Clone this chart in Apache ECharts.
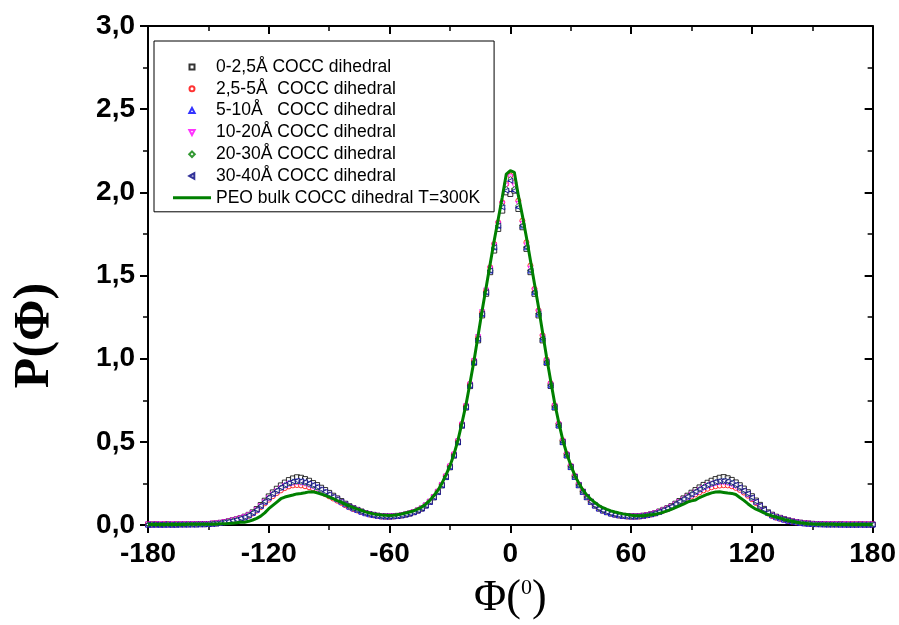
<!DOCTYPE html>
<html>
<head>
<meta charset="utf-8">
<script src="https://cdn.jsdelivr.net/npm/echarts@6/dist/echarts.min.js"></script>
<style>
  html, body { margin: 0; padding: 0; background: #fff; }
  #chart { width: 899px; height: 625px; }
</style>
</head>
<body>
<div id="chart"></div>
<script>
// dihedral angle (deg), step 2
const phi = [
  -180,-178,-176,-174,-172,-170,-168,-166,-164,-162,-160,-158,-156,-154,-152,
  -150,-148,-146,-144,-142,-140,-138,-136,-134,-132,-130,-128,-126,-124,-122,
  -120,-118,-116,-114,-112,-110,-108,-106,-104,-102,-100,-98,-96,-94,-92,
  -90,-88,-86,-84,-82,-80,-78,-76,-74,-72,-70,-68,-66,-64,-62,
  -60,-58,-56,-54,-52,-50,-48,-46,-44,-42,-40,-38,-36,-34,-32,
  -30,-28,-26,-24,-22,-20,-18,-16,-14,-12,-10,-8,-6,-4,-2,
  0,
  2,4,6,8,10,12,14,16,18,20,22,24,26,28,30,
  32,34,36,38,40,42,44,46,48,50,52,54,56,58,60,
  62,64,66,68,70,72,74,76,78,80,82,84,86,88,90,
  92,94,96,98,100,102,104,106,108,110,112,114,116,118,120,
  122,124,126,128,130,132,134,136,138,140,142,144,146,148,150,
  152,154,156,158,160,162,164,166,168,170,172,174,176,178,180
]

// 0-2,5 A
const p0_25 = [
  .003,.003,.004,.003,.003,.004,.003,.003,.004,.004,.004,.005,.004,.005,.005,
  .006,.008,.010,.013,.018,.022,.028,.034,.042,.050,.061,.076,.096,.120,.146,
  .172,.196,.218,.238,.255,.270,.280,.287,.284,.276,.266,.252,.240,.224,.210,
  .193,.176,.160,.144,.128,.113,.101,.091,.081,.072,.066,.061,.056,.053,.052,
  .051,.053,.055,.058,.063,.069,.077,.087,.099,.117,.139,.166,.198,.238,.288,
  .347,.417,.497,.597,.706,.835,.975,1.11,1.26,1.39,1.52,1.65,1.78,1.89,2.00,
  1.99,
  2.01,1.90,1.79,1.66,1.52,1.39,1.26,1.11,.975,.836,.706,.598,.498,.418,.348,
  .289,.239,.199,.167,.139,.117,.099,.087,.077,.069,.063,.058,.055,.053,.052,
  .052,.053,.056,.060,.066,.072,.081,.091,.101,.113,.128,.144,.160,.176,.194,
  .210,.226,.241,.254,.266,.276,.284,.288,.281,.271,.256,.239,.219,.197,.173,
  .147,.121,.097,.076,.062,.050,.043,.035,.028,.022,.018,.014,.011,.009,.007,
  .006,.005,.005,.004,.004,.004,.004,.004,.003,.003,.003,.004,.003,.003,.003
]

// 2,5-5 A
const p25_5 = [
  .003,.003,.003,.003,.004,.003,.003,.004,.004,.004,.004,.004,.005,.005,.005,
  .006,.008,.010,.012,.016,.020,.025,.031,.038,.045,.055,.069,.086,.107,.130,
  .152,.173,.192,.208,.222,.232,.238,.240,.238,.233,.227,.219,.209,.197,.185,
  .172,.159,.146,.133,.119,.106,.096,.087,.078,.070,.063,.058,.054,.051,.050,
  .050,.051,.054,.058,.063,.069,.077,.087,.100,.118,.141,.169,.202,.243,.294,
  .355,.426,.507,.607,.718,.849,.990,1.13,1.28,1.41,1.55,1.69,1.82,1.94,2.05,
  2.10,
  2.06,1.95,1.83,1.70,1.56,1.42,1.29,1.14,.995,.853,.722,.610,.510,.428,.356,
  .295,.244,.203,.170,.142,.119,.100,.088,.078,.070,.063,.058,.054,.051,.050,
  .050,.051,.054,.058,.063,.069,.077,.086,.095,.106,.119,.132,.145,.158,.171,
  .184,.196,.208,.218,.227,.233,.237,.239,.238,.233,.223,.211,.195,.176,.155,
  .132,.109,.088,.069,.054,.044,.037,.030,.024,.019,.015,.012,.010,.008,.006,
  .005,.005,.004,.004,.004,.004,.003,.003,.003,.004,.003,.003,.003,.003,.003
]

// 5-10 A
const p5_10 = [
  .003,.003,.003,.003,.003,.003,.003,.003,.004,.004,.004,.004,.004,.005,.005,
  .006,.008,.010,.013,.017,.021,.026,.032,.040,.046,.058,.073,.092,.115,.140,
  .165,.188,.207,.226,.241,.253,.262,.265,.263,.258,.250,.240,.229,.215,.200,
  .185,.170,.155,.140,.125,.110,.100,.090,.080,.071,.065,.060,.056,.053,.052,
  .052,.053,.055,.059,.064,.070,.078,.088,.100,.118,.140,.168,.200,.240,.290,
  .350,.420,.500,.600,.710,.840,.980,1.12,1.27,1.40,1.53,1.67,1.80,1.92,2.02,
  2.08,
  2.02,1.92,1.80,1.67,1.53,1.40,1.27,1.12,.980,.840,.710,.600,.500,.420,.350,
  .290,.240,.200,.168,.140,.118,.100,.088,.078,.070,.064,.059,.055,.053,.052,
  .052,.053,.056,.060,.065,.071,.080,.090,.100,.110,.125,.140,.155,.170,.185,
  .200,.215,.229,.240,.250,.258,.263,.265,.262,.253,.241,.226,.207,.188,.165,
  .140,.115,.092,.073,.058,.047,.040,.032,.026,.021,.017,.013,.010,.008,.006,
  .005,.005,.004,.004,.004,.004,.003,.003,.003,.003,.003,.003,.003,.003,.003
]

// 10-20 A
const p10_20 = [
  .003,.003,.003,.004,.003,.003,.004,.003,.004,.004,.004,.005,.004,.005,.005,
  .006,.008,.010,.013,.017,.021,.027,.033,.040,.048,.058,.072,.091,.113,.137,
  .161,.183,.202,.220,.234,.245,.252,.255,.253,.248,.240,.231,.220,.207,.193,
  .179,.165,.151,.136,.122,.108,.098,.088,.079,.071,.064,.059,.055,.052,.051,
  .051,.052,.054,.058,.063,.069,.077,.087,.100,.118,.140,.168,.200,.241,.292,
  .352,.423,.503,.604,.714,.844,.985,1.13,1.28,1.41,1.54,1.68,1.81,1.93,2.04,
  2.09,
  2.04,1.93,1.81,1.68,1.54,1.41,1.28,1.13,.985,.845,.714,.603,.503,.423,.352,
  .292,.241,.200,.168,.140,.118,.100,.088,.078,.070,.064,.059,.055,.052,.051,
  .051,.052,.055,.059,.064,.070,.078,.088,.098,.109,.123,.138,.152,.166,.181,
  .195,.209,.222,.234,.244,.251,.255,.256,.253,.245,.233,.219,.201,.181,.159,
  .135,.111,.090,.071,.057,.046,.040,.032,.026,.021,.017,.013,.010,.008,.006,
  .005,.005,.004,.004,.004,.004,.003,.004,.003,.003,.003,.003,.003,.003,.003
]

// 20-30 A
const p20_30 = [
  .003,.004,.003,.003,.003,.004,.003,.004,.004,.004,.005,.004,.005,.005,.005,
  .006,.008,.010,.013,.017,.021,.026,.032,.040,.047,.058,.073,.092,.114,.139,
  .164,.186,.205,.223,.238,.249,.258,.261,.259,.254,.246,.236,.225,.211,.197,
  .182,.168,.153,.138,.124,.109,.099,.089,.080,.071,.065,.060,.056,.053,.052,
  .052,.053,.055,.059,.064,.070,.078,.088,.100,.118,.140,.168,.200,.240,.290,
  .350,.420,.500,.600,.710,.840,.980,1.12,1.27,1.40,1.53,1.67,1.80,1.92,2.02,
  2.08,
  2.02,1.92,1.80,1.67,1.53,1.40,1.27,1.12,.980,.840,.710,.600,.500,.420,.350,
  .290,.240,.200,.168,.140,.118,.100,.088,.078,.070,.064,.059,.055,.053,.052,
  .052,.053,.056,.060,.065,.071,.080,.090,.100,.110,.125,.140,.155,.170,.185,
  .200,.214,.228,.239,.249,.257,.262,.263,.260,.252,.239,.224,.205,.186,.163,
  .138,.114,.092,.073,.058,.047,.041,.033,.027,.021,.017,.013,.010,.008,.006,
  .006,.005,.004,.004,.004,.004,.004,.003,.003,.003,.003,.003,.003,.003,.003
]

// 30-40 A
const p30_40 = [
  .003,.003,.003,.003,.004,.003,.003,.003,.004,.004,.004,.004,.005,.005,.005,
  .006,.008,.010,.013,.017,.021,.026,.032,.040,.048,.059,.074,.093,.116,.141,
  .166,.189,.208,.226,.241,.253,.262,.266,.264,.258,.250,.240,.229,.215,.200,
  .185,.170,.155,.140,.125,.110,.100,.090,.080,.071,.065,.060,.056,.053,.052,
  .052,.053,.055,.059,.064,.070,.078,.088,.100,.118,.140,.168,.200,.240,.290,
  .350,.420,.500,.600,.710,.840,.980,1.12,1.27,1.40,1.53,1.67,1.80,1.91,2.01,
  2.07,
  2.01,1.91,1.80,1.67,1.53,1.40,1.27,1.12,.980,.840,.710,.600,.500,.420,.350,
  .290,.240,.200,.168,.140,.118,.100,.088,.078,.070,.064,.059,.055,.053,.052,
  .052,.053,.056,.060,.065,.071,.080,.090,.100,.111,.126,.141,.156,.171,.186,
  .201,.216,.230,.242,.252,.260,.265,.266,.263,.254,.242,.227,.208,.189,.166,
  .141,.116,.093,.074,.059,.048,.041,.033,.027,.021,.017,.013,.010,.008,.006,
  .005,.005,.004,.004,.004,.004,.004,.003,.003,.003,.003,.003,.003,.003,.003
]

// PEO bulk, T=300K
const pBulk = [
  .003,.003,.003,.003,.003,.003,.003,.003,.003,.003,.004,.004,.004,.004,.004,
  .005,.005,.006,.007,.008,.009,.011,.013,.016,.017,.022,.030,.040,.053,.073,
  .098,.118,.138,.158,.168,.174,.180,.187,.190,.194,.199,.200,.194,.186,.178,
  .168,.158,.147,.137,.126,.115,.105,.095,.087,.079,.072,.067,.063,.060,.058,
  .057,.058,.062,.066,.072,.078,.085,.096,.108,.125,.148,.176,.208,.250,.300,
  .355,.425,.510,.615,.725,.855,.990,1.14,1.29,1.43,1.57,1.71,1.84,1.97,2.11,
  2.13,
  2.12,1.98,1.86,1.73,1.59,1.45,1.31,1.16,1.01,.870,.735,.620,.515,.430,.360,
  .300,.252,.212,.180,.155,.135,.117,.104,.094,.085,.078,.072,.067,.063,.059,
  .056,.055,.056,.058,.061,.065,.070,.077,.085,.094,.104,.115,.126,.138,.145,
  .150,.165,.175,.185,.193,.198,.200,.196,.192,.190,.183,.165,.148,.128,.110,
  .095,.085,.073,.063,.055,.048,.041,.034,.028,.022,.017,.013,.010,.008,.006,
  .005,.005,.004,.004,.004,.003,.003,.003,.003,.003,.003,.003,.003,.003,.003
]

const names = [
  '0-2,5Å COCC dihedral',
  '2,5-5Å  COCC dihedral',
  '5-10Å   COCC dihedral',
  '10-20Å COCC dihedral',
  '20-30Å COCC dihedral',
  '30-40Å COCC dihedral',
  'PEO bulk COCC dihedral T=300K'
]

// legend icons: the leading moves keep the icon box 38x8 so the marker stays small
const box = 'path://M0,0M38,8'
const legendIcons = [
  box + 'M16.5,1.5H21.5V6.5H16.5Z',
  box + 'M21.5,4A2.5,2.5,0,1,1,16.5,4A2.5,2.5,0,1,1,21.5,4Z',
  box + 'M19,1.3L21.7,6.3L16.3,6.3Z',
  box + 'M19,6.7L21.7,1.7L16.3,1.7Z',
  box + 'M19,1.2L21.8,4L19,6.8L16.2,4Z',
  box + 'M16.3,4L21.3,1.3L21.3,6.7Z',
  box + 'M0,2.5H38V5.5H0Z'
]

const toPairs = (arr) => phi.map((p, i) => [p, arr[i]])

const scatter = (name, arr, color, symbol, rotate) => ({
  name: name,
  type: 'scatter',
  data: toPairs(arr),
  symbol: symbol,
  symbolRotate: rotate || 0,
  symbolSize: 5,
  itemStyle: { color: '#fff', borderColor: color, borderWidth: 1 },
  emphasis: { disabled: true }
})

const chart = echarts.init(document.getElementById('chart'))

const lineStyle = { color: '#000', width: 2 }
const tickStyle = { color: '#000', width: 2 }
const minorStyle = { color: '#000', width: 1.5 }
const decimalComma = (v) => v.toFixed(1).replace('.', ',')

const option = {
  animation: false,
  backgroundColor: '#fff',
  grid: { left: 148, right: 24, top: 26, bottom: 88 },
  legend: {
    orient: 'vertical',
    left: 154,
    top: 41,
    padding: [17, 14, 5, 18],
    itemWidth: 38,
    itemHeight: 8,
    itemGap: 3.8,
    borderColor: '#000',
    borderWidth: 1,
    textStyle: { fontFamily: 'Liberation Sans', fontSize: 17.5, color: '#000', lineHeight: 18 },
    data: names.map((n, i) => ({ name: n, icon: legendIcons[i], symbolRotate: 0 }))
  },
  xAxis: [
    {
      type: 'value',
      min: -180,
      max: 180,
      interval: 60,
      position: 'bottom',
      axisLine: { onZero: false, lineStyle: lineStyle },
      axisTick: { length: 8, lineStyle: tickStyle },
      minorTick: { show: true, splitNumber: 2, length: 5, lineStyle: minorStyle },
      splitLine: { show: false },
      axisLabel: {
        margin: 15,
        fontFamily: 'Liberation Sans',
        fontWeight: 'bold',
        fontSize: 28,
        color: '#000'
      },
      name: '{a|Φ(}{b|0}{a|)}',
      nameLocation: 'middle',
      nameGap: 51,
      nameTextStyle: {
        rich: {
          a: { fontFamily: 'Liberation Serif', fontSize: 44, color: '#000' },
          b: { fontFamily: 'Liberation Serif', fontSize: 22, color: '#000', padding: [0, 0, 20, 0] }
        }
      }
    },
    {
      type: 'value',
      min: -180,
      max: 180,
      interval: 60,
      position: 'top',
      axisLine: { onZero: false, lineStyle: lineStyle },
      axisTick: { inside: true, length: 8, lineStyle: tickStyle },
      minorTick: { show: true, splitNumber: 2, length: 5, lineStyle: minorStyle },
      splitLine: { show: false },
      axisLabel: { show: false }
    }
  ],
  yAxis: [
    {
      type: 'value',
      min: 0,
      max: 3,
      interval: 0.5,
      position: 'left',
      axisLine: { show: true, onZero: false, lineStyle: lineStyle },
      axisTick: { show: true, length: 8, lineStyle: tickStyle },
      minorTick: { show: true, splitNumber: 2, length: 5, lineStyle: minorStyle },
      splitLine: { show: false },
      axisLabel: {
        margin: 13,
        fontFamily: 'Liberation Sans',
        fontWeight: 'bold',
        fontSize: 28,
        color: '#000',
        formatter: decimalComma
      },
      name: 'P(Φ)',
      nameLocation: 'middle',
      nameGap: 88,
      nameTextStyle: {
        fontFamily: 'Liberation Serif',
        fontSize: 50,
        fontWeight: 'bold',
        color: '#000',
        padding: [0, 120, 0, 0]
      }
    },
    {
      type: 'value',
      min: 0,
      max: 3,
      interval: 0.5,
      position: 'right',
      axisLine: { show: true, onZero: false, lineStyle: lineStyle },
      axisTick: { show: true, inside: true, length: 8, lineStyle: tickStyle },
      minorTick: { show: true, splitNumber: 2, length: 5, lineStyle: minorStyle },
      splitLine: { show: false },
      axisLabel: { show: false }
    }
  ],
  series: [
    scatter(names[0], p0_25, '#000000', 'rect'),
    scatter(names[1], p25_5, '#ff0000', 'circle'),
    scatter(names[2], p5_10, '#0000ff', 'triangle'),
    scatter(names[3], p10_20, '#ff00ff', 'triangle', 180),
    scatter(names[4], p20_30, '#008000', 'diamond'),
    scatter(names[5], p30_40, '#000080', 'triangle', 90),
    {
      name: names[6],
      type: 'line',
      data: toPairs(pBulk),
      symbol: 'none',
      z: 5,
      lineStyle: { color: '#008000', width: 3 },
      itemStyle: { color: '#008000' },
      emphasis: { disabled: true }
    }
  ]
}

chart.setOption(option)
</script>
</body>
</html>
